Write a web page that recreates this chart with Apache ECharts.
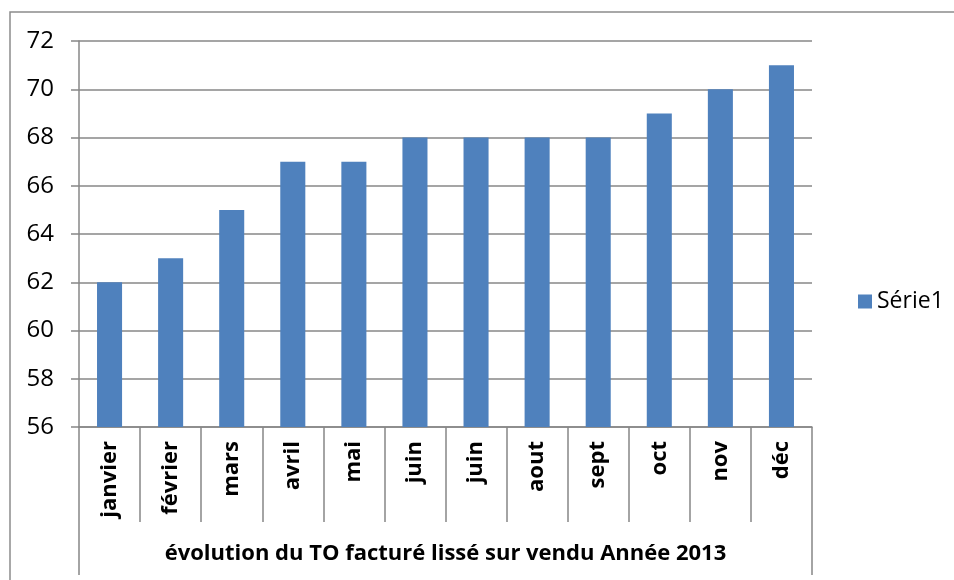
<!DOCTYPE html>
<html>
<head>
<meta charset="utf-8">
<script src="https://cdn.jsdelivr.net/npm/echarts@6/dist/echarts.min.js"></script>
<style>
  html, body { margin: 0; padding: 0; background: #fff; }
  #main { width: 954px; height: 580px; }
</style>
</head>
<body>
<div id="main"></div>
<script>
// données
const months = ['janvier', 'février', 'mars', 'avril', 'mai', 'juin', 'juin', 'aout', 'sept', 'oct', 'nov', 'déc']
const serie1 = [62, 63, 65, 67, 67, 68, 68, 68, 68, 69, 70, 71]
const groupLabel = ['évolution du TO facturé lissé sur vendu Année 2013']

const font = 'Open Sans'
const gray = '#878787'

var myChart = echarts.init(document.getElementById('main'))
let option = {
    animation: false,
    textStyle: { fontFamily: font },
    grid: { left: 79, right: 142, top: 41, bottom: 153 },
    legend: {
        left: 853,
        top: 285,
        orient: 'vertical',
        icon: 'rect',
        itemWidth: 14,
        itemHeight: 14,
        itemGap: 6,
        textStyle: { fontFamily: font, fontSize: 23, color: '#000' },
        data: ['Série1']
    },
    xAxis: [
        {
            type: 'category',
            data: months,
            position: 'bottom',
            axisLine: { show: true, lineStyle: { color: gray, width: 1.5 } },
            axisTick: { show: true, length: 95, lineStyle: { color: gray, width: 1.5 } },
            axisLabel: {
                rotate: 90,
                margin: 14,
                fontFamily: font,
                fontWeight: 'bold',
                fontSize: 22,
                color: '#000'
            }
        },
        {
            //deuxième niveau de catégorie
            type: 'category',
            data: groupLabel,
            position: 'bottom',
            offset: 95,
            axisLine: { show: false },
            axisTick: { show: true, length: 53, lineStyle: { color: gray, width: 1.5 } },
            axisLabel: {
                margin: 21,
                fontFamily: font,
                fontWeight: 'bold',
                fontSize: 22,
                color: '#000'
            }
        }
    ],
    yAxis: {
        type: 'value',
        min: 56,
        max: 72,
        interval: 2,
        axisLine: { show: true, lineStyle: { color: gray, width: 1.5 } },
        axisTick: { show: true, length: 8, lineStyle: { color: gray, width: 1.5 } },
        splitLine: { show: true, lineStyle: { color: gray, width: 1.5 } },
        axisLabel: { margin: 25, fontFamily: font, fontSize: 24, color: '#000' }
    },
    series: [
        {
            name: 'Série1',
            type: 'bar',
            xAxisIndex: 0,
            data: serie1,
            barWidth: '41%',
            itemStyle: { color: '#4f81bd' }
        }
    ],
    graphic: [
        {
            //cadre du graphique
            type: 'rect',
            shape: { x: 10, y: 12, width: 1000, height: 1000 },
            style: { fill: 'none', stroke: '#8c8c8c', lineWidth: 1.5 },
            silent: true
        }
    ]
}
myChart.setOption(option)
</script>
</body>
</html>
